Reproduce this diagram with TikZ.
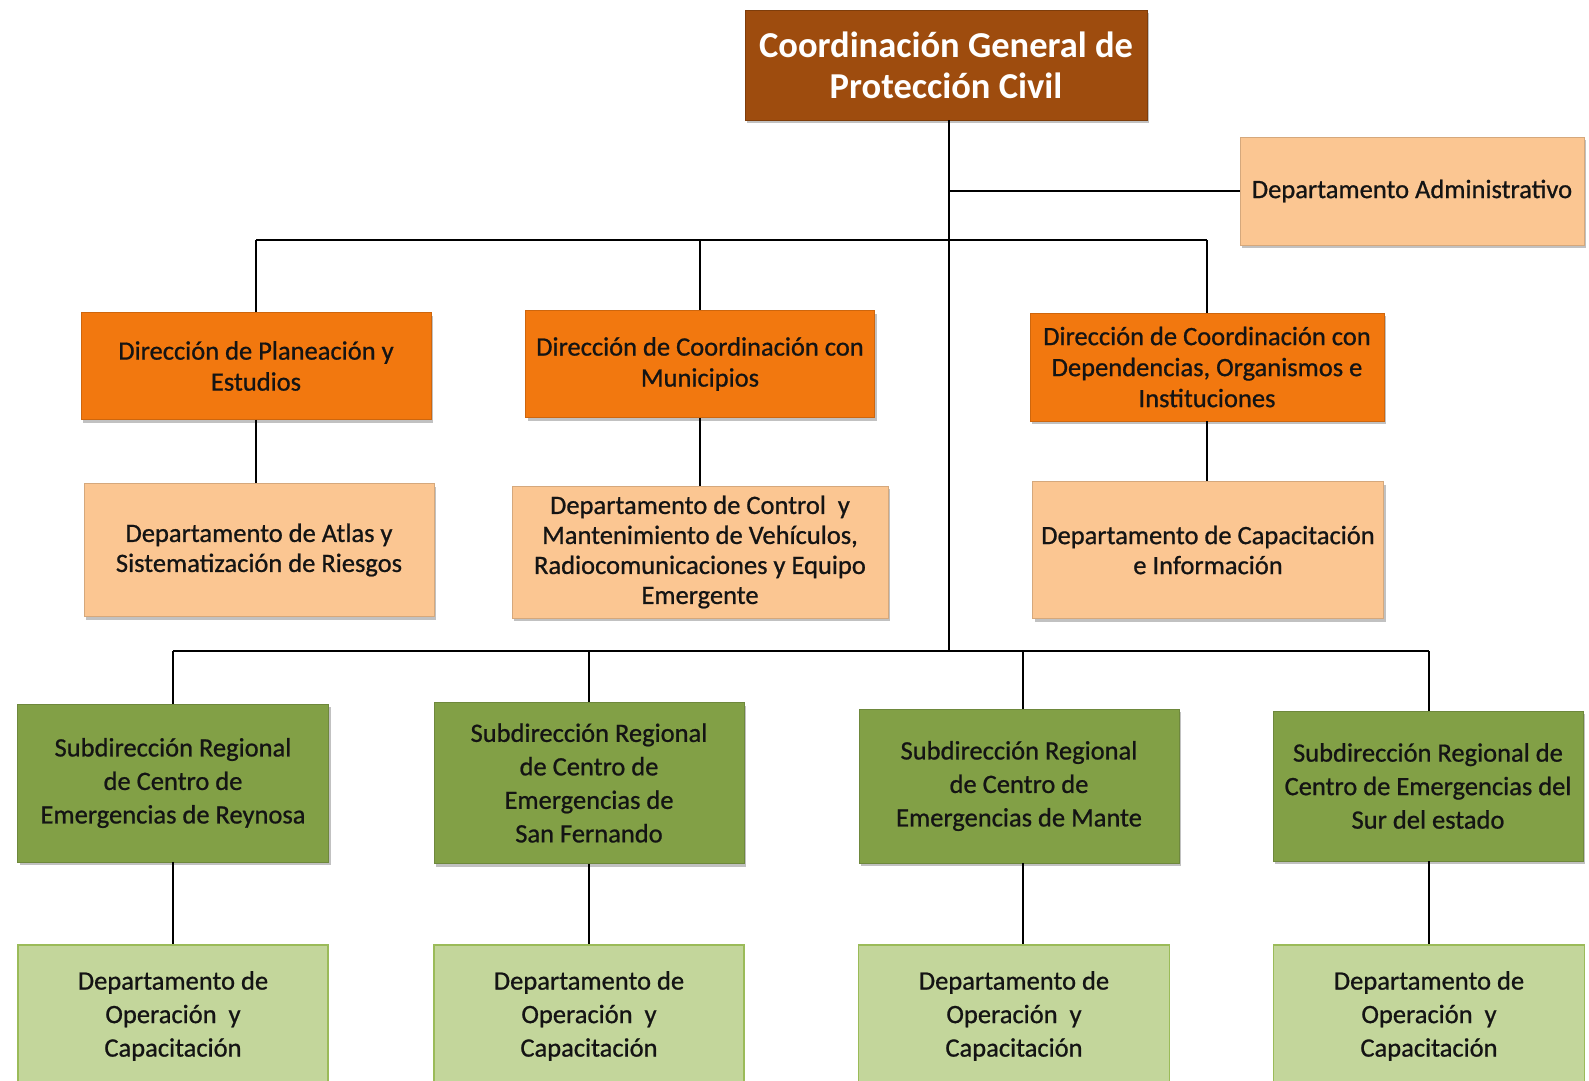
\documentclass[tikz,border=0pt]{standalone}
\usepackage{fontspec}
\setmainfont{Carlito}
\newfontfamily\heavyfont{Carlito}[FakeBold=0.8]
\usetikzlibrary{shadows}
\definecolor{cBrown}{HTML}{9E4C0E}
\definecolor{cOrange}{HTML}{F2780F}
\definecolor{cPeach}{HTML}{FBC692}
\definecolor{cGreen}{HTML}{82A046}
\definecolor{cLGreen}{HTML}{C3D69B}
\definecolor{cLGreenB}{HTML}{9BBB59}
\definecolor{cTxt}{HTML}{141414}
\tikzset{
  box/.style={rectangle, align=center, inner sep=2pt, text=cTxt,
    drop shadow={shadow xshift=2pt, shadow yshift=-3pt, opacity=0.35, fill=black!70}},
  topbox/.style={box, fill=cBrown, draw=cBrown!80!black, line width=0.8pt, text=white,
    font=\fontsize{36.5}{41}\selectfont\bfseries},
  dirbox/.style={box, fill=cOrange, draw=cOrange!85!black, line width=0.8pt,
    font=\heavyfont\fontsize{26.5}{31}\selectfont},
  peachbox/.style={box, fill=cPeach, draw=cPeach!85!black, line width=0.8pt,
    font=\heavyfont\fontsize{26.5}{30}\selectfont},
  greenbox/.style={box, fill=cGreen, draw=cGreen!85!black, line width=0.8pt,
    font=\heavyfont\fontsize{26.5}{33.5}\selectfont},
  lgreenbox/.style={rectangle, align=center, inner sep=2pt, text=cTxt, fill=cLGreen,
    draw=cLGreenB, line width=1.6pt, font=\heavyfont\fontsize{26.5}{33.5}\selectfont},
  conn/.style={line width=2pt, black},
}
\begin{document}
\begin{tikzpicture}[x=1pt, y=-1pt]
\useasboundingbox (0,0) rectangle (1589,1080);
% top
\node[topbox, minimum width=402pt, minimum height=110pt] (top) at (946,65)
  {Coordinación General de\\Protección Civil};
\node[peachbox, minimum width=344pt, minimum height=108pt] (adm) at (1412,191)
  {Departamento Administrativo};
% direcciones
\node[dirbox, minimum width=350pt, minimum height=107pt] (d1) at (256,366)
  {Dirección de Planeación y\\Estudios};
\node[dirbox, minimum width=349pt, minimum height=107pt] (d2) at (700,364)
  {Dirección de Coordinación con\\Municipios};
\node[dirbox, minimum width=354pt, minimum height=108pt] (d3) at (1207,367)
  {Dirección de Coordinación con\\Dependencias, Organismos e\\Instituciones};
% departamentos
\node[peachbox, minimum width=350pt, minimum height=133pt] (p1) at (259,550)
  {Departamento de Atlas y\\Sistematización de Riesgos};
\node[peachbox, minimum width=376pt, minimum height=132pt] (p2) at (700,552)
  {Departamento de Control\ \ y\\Mantenimiento de Vehículos,\\Radiocomunicaciones y Equipo\\Emergente};
\node[peachbox, minimum width=351pt, minimum height=137pt] (p3) at (1208,550)
  {Departamento de Capacitación\\e Información};
% subdirecciones
\node[greenbox, minimum width=311pt, minimum height=158pt] (g1) at (173,783)
  {Subdirección Regional\\de Centro de\\Emergencias de Reynosa};
\node[greenbox, minimum width=310pt, minimum height=161pt] (g2) at (589,783)
  {Subdirección Regional\\de Centro de\\Emergencias de\\San Fernando};
\node[greenbox, minimum width=320pt, minimum height=154pt] (g3) at (1019,786)
  {Subdirección Regional\\de Centro de\\Emergencias de Mante};
\node[greenbox, minimum width=310pt, minimum height=150pt] (g4) at (1428,786)
  {Subdirección Regional de\\Centro de Emergencias del\\Sur del estado};
% departamentos de operacion
\node[lgreenbox, minimum width=310pt, minimum height=142pt] (l1) at (173,1016)
  {Departamento de\\Operación\ \ y\\Capacitación};
\node[lgreenbox, minimum width=310pt, minimum height=142pt] (l2) at (589,1016)
  {Departamento de\\Operación\ \ y\\Capacitación};
\node[lgreenbox, minimum width=311pt, minimum height=142pt] (l3) at (1014,1016)
  {Departamento de\\Operación\ \ y\\Capacitación};
\node[lgreenbox, minimum width=311pt, minimum height=142pt] (l4) at (1429,1016)
  {Departamento de\\Operación\ \ y\\Capacitación};
% connectors
\coordinate (barA) at (0,240);
\coordinate (barB) at (0,651);
\coordinate (trunk) at (949,651);
\coordinate (c3) at (1023,0);
\draw[conn] (trunk |- top.south) -- (trunk);
\draw[conn] (trunk |- adm.west) -- (adm.west);
\draw[conn] (d1.north |- barA) -- (d3.north |- barA);
\draw[conn] (d1.north |- barA) -- (d1.north);
\draw[conn] (d2.north |- barA) -- (d2.north);
\draw[conn] (d3.north |- barA) -- (d3.north);
\draw[conn] (d1.south) -- (d1.south |- p1.north);
\draw[conn] (d2.south) -- (d2.south |- p2.north);
\draw[conn] (d3.south) -- (d3.south |- p3.north);
\draw[conn] (g1.north |- barB) -- (l4.north |- barB);
\draw[conn] (g1.north |- barB) -- (g1.north);
\draw[conn] (g2.north |- barB) -- (g2.north);
\draw[conn] (c3 |- barB) -- (c3 |- g3.north);
\draw[conn] (l4.north |- barB) -- (l4.north |- g4.north);
\draw[conn] (g1.south) -- (l1.north);
\draw[conn] (g2.south) -- (l2.north);
\draw[conn] (c3 |- g3.south) -- (c3 |- l3.north);
\draw[conn] (l4.north |- g4.south) -- (l4.north);
\end{tikzpicture}
\end{document}
